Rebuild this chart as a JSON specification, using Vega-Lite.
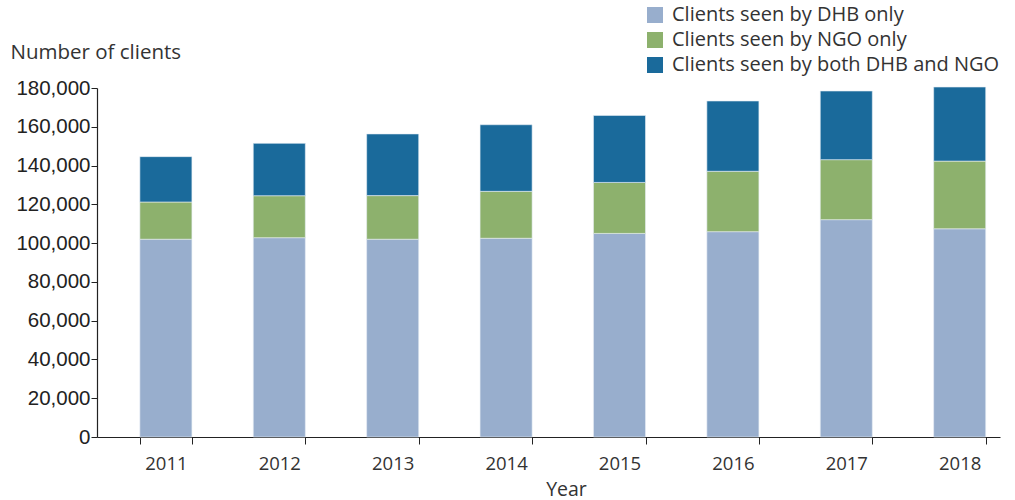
{
  "$schema": "https://vega.github.io/schema/vega-lite/v6.json",
  "width": 903,
  "height": 349,
  "autosize": {"type": "none"},
  "padding": {"left": 97, "top": 88, "right": 15, "bottom": 63},
  "background": "white",
  "config": {"view": {"stroke": null}, "font": "Open Sans"},
  "data": {
    "values": [
      {"year": "2011", "group": "Clients seen by DHB only", "o": 1, "clients": 102000},
      {"year": "2011", "group": "Clients seen by NGO only", "o": 2, "clients": 19200},
      {"year": "2011", "group": "Clients seen by both DHB and NGO", "o": 3, "clients": 23400},
      {"year": "2012", "group": "Clients seen by DHB only", "o": 1, "clients": 102800},
      {"year": "2012", "group": "Clients seen by NGO only", "o": 2, "clients": 21650},
      {"year": "2012", "group": "Clients seen by both DHB and NGO", "o": 3, "clients": 27000},
      {"year": "2013", "group": "Clients seen by DHB only", "o": 1, "clients": 102000},
      {"year": "2013", "group": "Clients seen by NGO only", "o": 2, "clients": 22500},
      {"year": "2013", "group": "Clients seen by both DHB and NGO", "o": 3, "clients": 31800},
      {"year": "2014", "group": "Clients seen by DHB only", "o": 1, "clients": 102500},
      {"year": "2014", "group": "Clients seen by NGO only", "o": 2, "clients": 24200},
      {"year": "2014", "group": "Clients seen by both DHB and NGO", "o": 3, "clients": 34350},
      {"year": "2015", "group": "Clients seen by DHB only", "o": 1, "clients": 105000},
      {"year": "2015", "group": "Clients seen by NGO only", "o": 2, "clients": 26300},
      {"year": "2015", "group": "Clients seen by both DHB and NGO", "o": 3, "clients": 34550},
      {"year": "2016", "group": "Clients seen by DHB only", "o": 1, "clients": 105900},
      {"year": "2016", "group": "Clients seen by NGO only", "o": 2, "clients": 31150},
      {"year": "2016", "group": "Clients seen by both DHB and NGO", "o": 3, "clients": 36250},
      {"year": "2017", "group": "Clients seen by DHB only", "o": 1, "clients": 112100},
      {"year": "2017", "group": "Clients seen by NGO only", "o": 2, "clients": 30950},
      {"year": "2017", "group": "Clients seen by both DHB and NGO", "o": 3, "clients": 35400},
      {"year": "2018", "group": "Clients seen by DHB only", "o": 1, "clients": 107400},
      {"year": "2018", "group": "Clients seen by NGO only", "o": 2, "clients": 34900},
      {"year": "2018", "group": "Clients seen by both DHB and NGO", "o": 3, "clients": 38200}
    ]
  },
  "mark": {"type": "bar", "stroke": "#e8eef5", "strokeWidth": 0.6},
  "encoding": {
    "x": {
      "field": "year",
      "type": "ordinal",
      "scale": {"paddingInner": 0.541, "paddingOuter": 0.252, "align": 0.75},
      "axis": {
        "title": "Year",
        "titleFont": "Open Sans",
        "titleFontSize": 19.5,
        "titleFontWeight": "normal",
        "titleColor": "#333333",
        "titleX": 469,
        "titleY": 58,
        "titleBaseline": "alphabetic",
        "labelAngle": 0,
        "labelFont": "Open Sans",
        "labelFontSize": 18.5,
        "labelColor": "#333333",
        "labelPadding": 10,
        "tickBand": "extent",
        "tickSize": 7,
        "tickColor": "#222222",
        "domainColor": "#222222",
        "domainWidth": 1.2
      }
    },
    "y": {
      "field": "clients",
      "type": "quantitative",
      "stack": "zero",
      "scale": {"domain": [0, 180000], "nice": false},
      "axis": {
        "title": "Number of clients",
        "titleFont": "Open Sans",
        "titleFontSize": 20.5,
        "titleFontWeight": "normal",
        "titleColor": "#333333",
        "titleAngle": 0,
        "titleAlign": "left",
        "titleBaseline": "alphabetic",
        "titleX": -87,
        "titleY": -30,
        "values": [0, 20000, 40000, 60000, 80000, 100000, 120000, 140000, 160000, 180000],
        "format": ",d",
        "labelFont": "Liberation Sans",
        "labelFontSize": 20.5,
        "labelColor": "#222222",
        "labelPadding": 1,
        "tickSize": 6,
        "tickColor": "#222222",
        "domainColor": "#222222",
        "domainWidth": 1.2,
        "grid": false
      }
    },
    "color": {
      "field": "group",
      "type": "nominal",
      "scale": {
        "domain": ["Clients seen by DHB only", "Clients seen by NGO only", "Clients seen by both DHB and NGO"],
        "range": ["#98aecd", "#8db16d", "#1a6a9b"]
      },
      "legend": {
        "title": null,
        "orient": "none",
        "legendX": 548,
        "legendY": -83,
        "symbolType": "square",
        "symbolSize": 256,
        "symbolStrokeWidth": 0,
        "labelFont": "Open Sans",
        "labelFontSize": 20,
        "labelColor": "#333333",
        "labelOffset": 7,
        "labelLimit": 0,
        "rowPadding": 5
      }
    },
    "order": {"field": "o", "type": "quantitative"}
  }
}
